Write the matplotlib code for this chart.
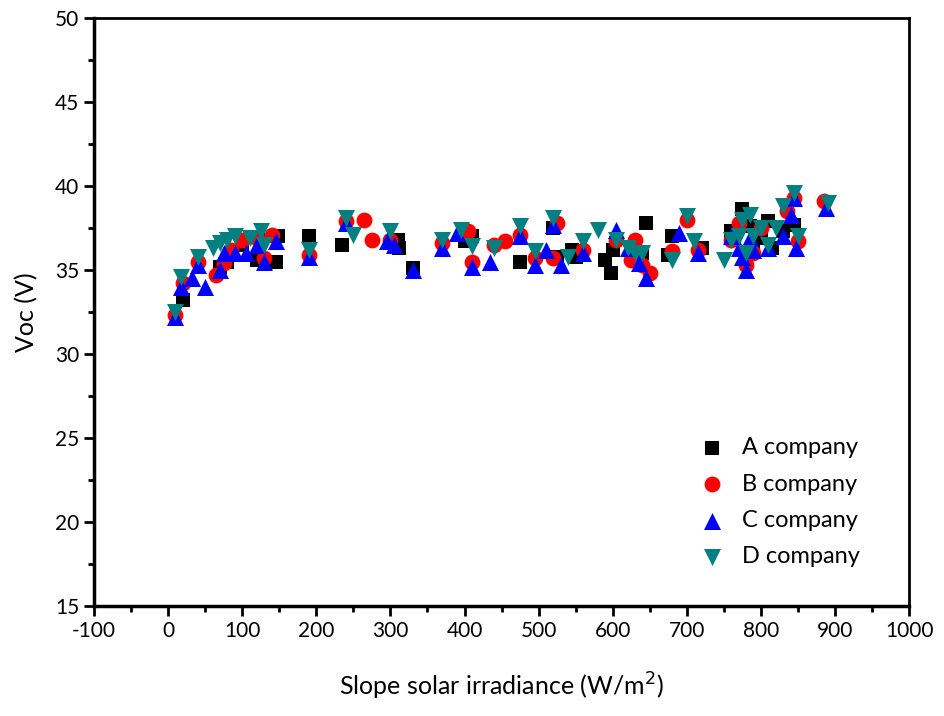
import numpy as np
import matplotlib.pyplot as plt
from matplotlib.ticker import MultipleLocator

# A company (black squares)
a_x = [20, 70, 80, 100, 120, 125, 145, 148, 190, 235, 310, 312, 330, 400, 410,
       475, 520, 525, 545, 550, 590, 598, 600, 645, 640, 675, 680, 720, 760, 775,
       785, 790, 800, 810, 815, 830, 845]
a_y = [33.2, 35.2, 35.5, 36.5, 35.6, 36.8, 35.5, 37.0, 37.0, 36.5, 36.8, 36.3, 35.1, 36.7, 37.0,
       35.5, 37.5, 35.8, 36.2, 35.8, 35.6, 34.8, 36.2, 37.8, 36.0, 35.9, 37.0, 36.3, 37.3, 38.6,
       37.6, 36.1, 36.9, 37.9, 36.3, 37.3, 37.7]

# B company (red circles)
b_x = [9, 20, 40, 65, 75, 85, 100, 120, 130, 140, 190, 240, 265, 275, 300, 370, 405, 410,
       440, 455, 475, 495, 520, 525, 560, 605, 625, 630, 640, 650, 680, 700, 715, 760, 770,
       780, 790, 800, 835, 845, 850, 885]
b_y = [32.3, 34.2, 35.5, 34.7, 35.4, 36.2, 36.8, 36.9, 35.7, 37.1, 35.9, 37.9, 38.0, 36.8, 36.8, 36.6, 37.3, 35.5,
       36.5, 36.7, 37.1, 35.7, 35.7, 37.8, 36.2, 36.8, 35.6, 36.8, 35.3, 34.8, 36.1, 38.0, 36.2, 36.8, 37.8,
       35.3, 36.0, 37.5, 38.5, 39.3, 36.7, 39.1]

# C company (blue up triangles)
c_x = [9, 18, 32, 40, 50, 70, 75, 90, 105, 120, 130, 145, 190, 240, 295, 305, 330, 370,
       390, 410, 435, 475, 495, 510, 520, 530, 560, 605, 620, 635, 645, 690, 715, 760, 770,
       775, 780, 785, 790, 810, 830, 840, 845, 848, 888]
c_y = [32.2, 34.0, 34.5, 35.3, 34.0, 35.0, 36.0, 36.0, 36.0, 36.5, 35.5, 36.7, 35.8, 37.8, 36.7, 36.5, 35.0, 36.3,
       37.2, 35.2, 35.5, 37.0, 35.3, 36.2, 37.7, 35.3, 36.0, 37.4, 36.3, 35.4, 34.5, 37.2, 36.0, 37.0, 36.3,
       35.8, 35.0, 36.9, 36.2, 36.3, 37.0, 38.3, 39.3, 36.3, 38.7]

# D company (teal down triangles)
d_x = [9, 18, 40, 60, 70, 80, 90, 110, 125, 130, 190, 240, 250, 300, 370, 395, 410, 440,
       475, 495, 520, 540, 560, 580, 605, 620, 630, 640, 680, 700, 710, 750, 760, 770, 775,
       780, 785, 790, 800, 810, 820, 830, 845, 850, 890]
d_y = [32.5, 34.6, 35.8, 36.3, 36.6, 36.8, 37.0, 36.9, 37.3, 36.5, 36.2, 38.1, 37.1, 37.3, 36.8, 37.4, 36.4, 36.3,
       37.6, 36.1, 38.1, 35.8, 36.7, 37.4, 36.8, 36.3, 36.0, 36.0, 35.6, 38.2, 36.7, 35.6, 36.8, 37.0, 38.0,
       36.0, 38.3, 37.0, 37.5, 36.5, 37.5, 38.8, 39.6, 37.0, 39.0]

plt.rcParams['font.family'] = ['Lato', 'DejaVu Sans']
plt.rcParams['axes.unicode_minus'] = False

fig = plt.figure(figsize=(9.45, 7.16), dpi=100)
ax = fig.add_axes([0.0995, 0.1536, 0.8625, 0.8214])

ax.scatter(a_x, a_y, marker='s', s=110, color='black', linewidths=0, label='A company')
ax.scatter(b_x, b_y, marker='o', s=130, color='red', linewidths=0, label='B company')
ax.scatter(c_x, c_y, marker='^', s=150, color='blue', linewidths=0, label='C company')
ax.scatter(d_x, d_y, marker='v', s=150, color='#008080', linewidths=0, label='D company')

ax.set_xlim(-100, 1000)
ax.set_ylim(15, 50)
ax.xaxis.set_major_locator(MultipleLocator(100))
ax.xaxis.set_minor_locator(MultipleLocator(50))
ax.yaxis.set_major_locator(MultipleLocator(5))
ax.yaxis.set_minor_locator(MultipleLocator(2.5))
ax.tick_params(which='major', direction='out', length=7, width=2, labelsize=15)
ax.tick_params(which='minor', direction='out', length=4, width=2)
for sp in ax.spines.values():
    sp.set_linewidth(2)
ax.spines['left'].set_linewidth(2.5)
ax.spines['bottom'].set_linewidth(2.5)

ax.set_xlabel('Slope solar irradiance (W/m$^2$)', fontsize=18, labelpad=22)
ax.set_ylabel('Voc (V)', fontsize=18, labelpad=12)

ax.legend(loc='lower right', bbox_to_anchor=(0.94, 0.066), frameon=False, fontsize=17,
          handletextpad=0.3, labelspacing=0.65, borderaxespad=0, borderpad=0)

fig.savefig('out.png', dpi=100)
